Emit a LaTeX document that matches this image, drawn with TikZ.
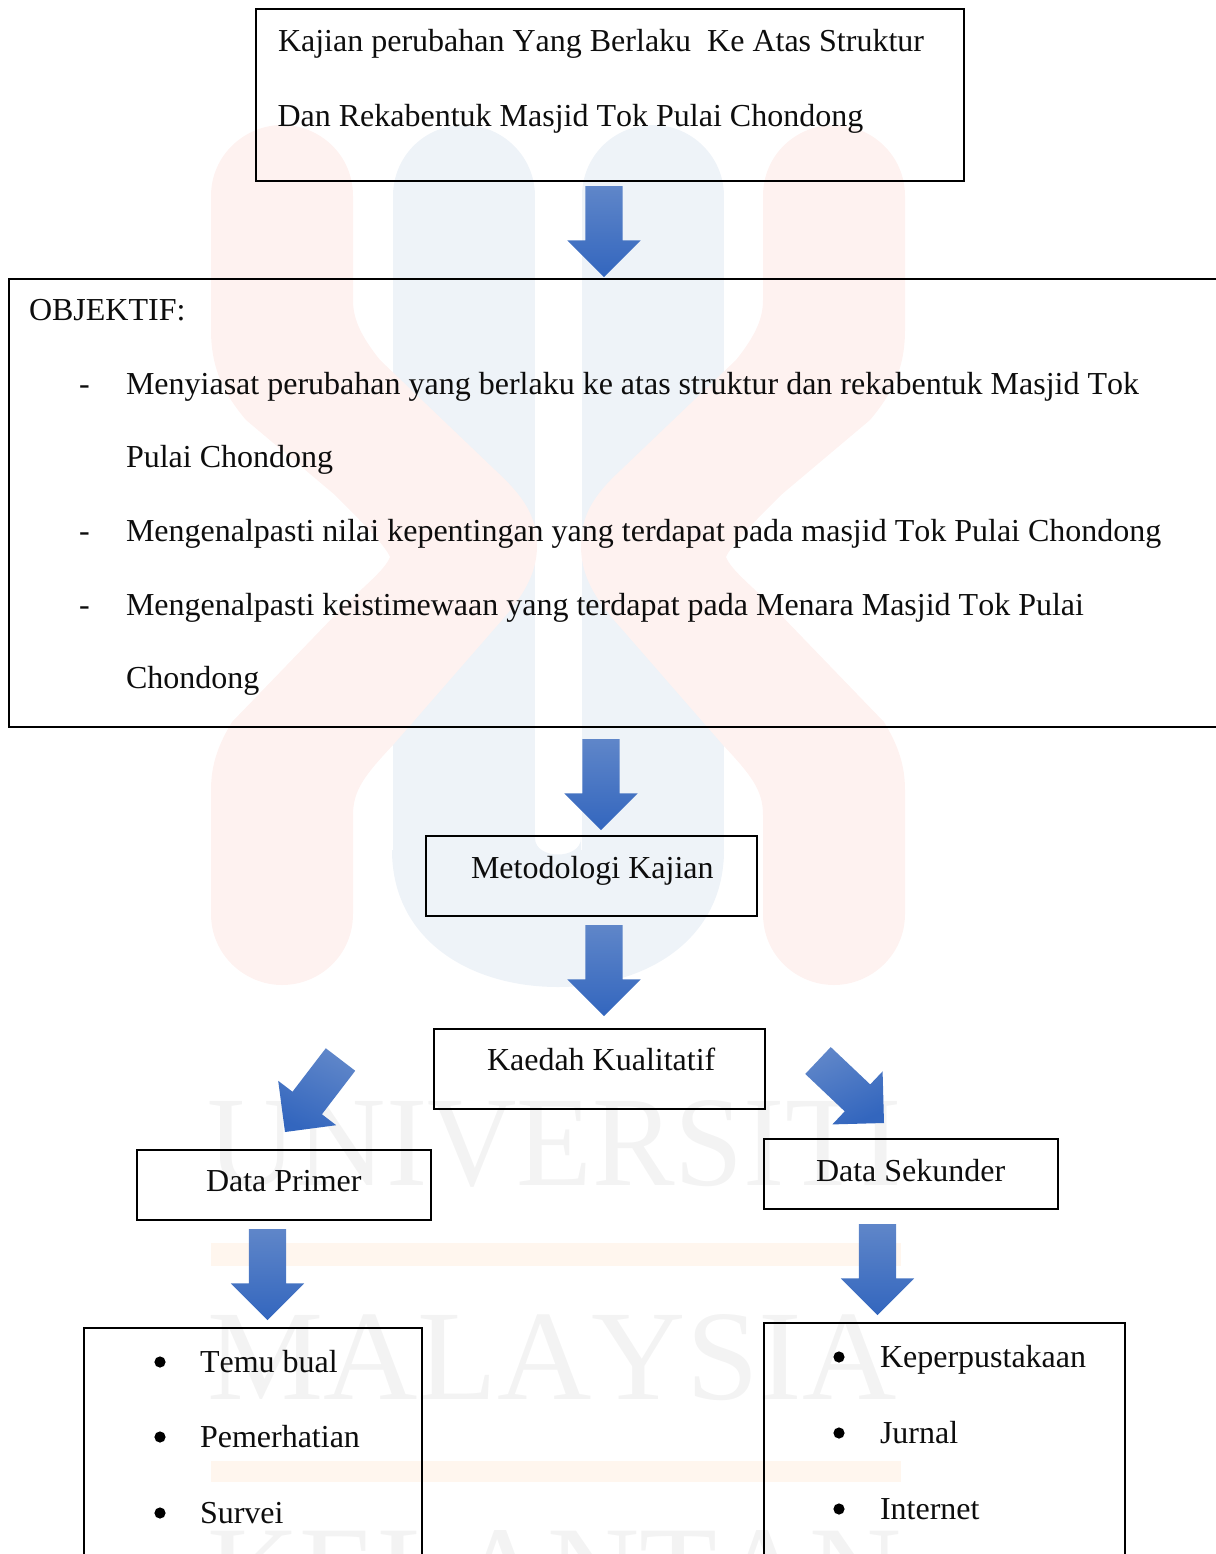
\documentclass[tikz,border=0pt]{standalone}
\usepackage{fontspec}
\setmainfont[Kerning=Off]{Liberation Serif}
\usetikzlibrary{calc}
\definecolor{wmred}{HTML}{FEF2F0}
\definecolor{wmblue}{HTML}{EEF3F8}
\definecolor{wmorange}{HTML}{FFF6EE}
\definecolor{wmgrey}{HTML}{F3F3F3}
\definecolor{arrowtop}{HTML}{5F86C9}
\definecolor{arrowmid}{HTML}{4171C4}
\definecolor{arrowbot}{HTML}{3366BE}
\tikzset{
  bx/.style={draw=black,line width=1.8pt,fill=none,anchor=north west,inner sep=0pt,outer sep=0pt},
  tx/.style={anchor=base west,inner sep=0pt,outer sep=0pt,font=\fontsize{24}{28}\selectfont,text=black!95},
  wm/.style={anchor=base west,inner sep=0pt,text=wmgrey,font=\fontsize{96}{110}\selectfont},
  bul/.style={circle,fill=black,inner sep=0pt,minimum size=8.4pt},
}
\newcommand{\arrowang}{0}
\newcommand{\blockarrow}[2]{%
  \coordinate (hb) at ($(#2)!27.4pt!(#1)$);
  \shade[top color=arrowtop,middle color=arrowmid,bottom color=arrowbot,shading angle=\arrowang]
    ($(#1)!13.9pt!90:(#2)$) -- ($(hb)!13.9pt!90:(#2)$) -- ($(hb)!27.4pt!90:(#2)$) -- (#2)
    -- ($(hb)!27.4pt!-90:(#2)$) -- ($(hb)!13.9pt!-90:(#2)$) -- ($(#1)!13.9pt!-90:(#2)$) -- cycle;
}
\begin{document}
\begin{tikzpicture}[x=0.75pt,y=-0.75pt]
\useasboundingbox (0,0) rectangle (1216,1554);
\clip (0,0) rectangle (1216,1554);
% watermark
\draw[wmblue,line width=106.5pt,line cap=round] (463.5,196) -- (463.5,850);
\draw[wmblue,line width=106.5pt,line cap=round] (652.5,196) -- (652.5,850);
\fill[wmblue] (392,850) .. controls (392,940) and (470,987) .. (558,987)
  .. controls (646,987) and (724,940) .. (724,850) -- (581,850) -- (581,838)
  .. controls (581,860) and (535,860) .. (535,838) -- (535,850) -- cycle;
\fill[wmred] (211,196) .. controls (211,155) and (245,125) .. (282,125) .. controls (320,125) and (353,155) .. (353,196)
  -- (353,300) .. controls (353,318) and (360,335) .. (380,360) -- (495,470)
  .. controls (522,495) and (537,515) .. (537,546) .. controls (537,575) and (522,598) .. (495,628) -- (393,745)
  .. controls (365,775) and (353,790) .. (353,815) -- (353,914)
  .. controls (353,955) and (320,985) .. (282,985) .. controls (245,985) and (211,955) .. (211,914)
  -- (211,790) .. controls (211,765) and (218,745) .. (232,722) -- (340,610) .. controls (365,585) and (385,570) .. (390,557)
  .. controls (385,545) and (360,520) .. (335,495) -- (246,420)
  .. controls (225,395) and (211,370) .. (211,330) -- cycle;
\fill[wmred] (905,196) .. controls (905,155) and (871,125) .. (834,125) .. controls (796,125) and (763,155) .. (763,196)
  -- (763,300) .. controls (763,318) and (756,335) .. (736,360) -- (621,470)
  .. controls (594,495) and (581,515) .. (581,546) .. controls (581,575) and (594,598) .. (621,628) -- (723,745)
  .. controls (751,775) and (763,790) .. (763,815) -- (763,914)
  .. controls (763,955) and (796,985) .. (834,985) .. controls (871,985) and (905,955) .. (905,914)
  -- (905,790) .. controls (905,765) and (898,745) .. (884,722) -- (776,610) .. controls (751,585) and (731,570) .. (726,557)
  .. controls (731,545) and (756,520) .. (781,495) -- (870,420)
  .. controls (891,395) and (905,370) .. (905,330) -- cycle;
\fill[wmorange] (211,1243) rectangle (901,1266);
\fill[wmorange] (211,1461) rectangle (901,1482);
\node[wm] (wm1) at (207,1185) {\resizebox{521pt}{63.75pt}{UNIVERSITI}};
\node[wm] (wm2) at (207,1399) {\resizebox{517pt}{63.75pt}{MALAYSIA}};
\node[wm] (wm3) at (207,1615) {\resizebox{521pt}{63.75pt}{KELANTAN}};
% boxes
\node[bx,minimum width=531pt,minimum height=129pt] (top) at (256,9) {};
\node[bx,minimum width=930pt,minimum height=336pt] (obj) at (9,279) {};
\node[bx,minimum width=248.25pt,minimum height=60pt] (met) at (426,836) {};
\node[bx,minimum width=248.25pt,minimum height=60pt] (kae) at (434,1029) {};
\node[bx,minimum width=220.5pt,minimum height=52.5pt] (pri) at (137,1150) {};
\node[bx,minimum width=220.5pt,minimum height=52.5pt] (sek) at (764,1139) {};
\node[bx,minimum width=253.5pt,minimum height=200pt] (lstl) at (84,1328) {};
\node[bx,minimum width=270.75pt,minimum height=200pt] (lstr) at (764,1323) {};
% text
\node[tx] (t1) at (278,51) {Kajian perubahan Yang Berlaku \ Ke Atas Struktur};
\node[tx] (t2) at (277.5,126) {Dan Rekabentuk Masjid Tok Pulai Chondong};
\node[tx] (o0) at (29,320) {OBJEKTIF:};
\node[tx] (d1) at (79,394) {-};
\node[tx] (o1) at (126,394) {Menyiasat perubahan yang berlaku ke atas struktur dan rekabentuk Masjid Tok};
\node[tx] (o1b) at (126,467) {Pulai Chondong};
\node[tx] (d2) at (79,541) {-};
\node[tx] (o2) at (126,541) {Mengenalpasti nilai kepentingan yang terdapat pada masjid Tok Pulai Chondong};
\node[tx] (d3) at (79,615) {-};
\node[tx] (o3) at (126,615) {Mengenalpasti keistimewaan yang terdapat pada Menara Masjid Tok Pulai};
\node[tx] (o3b) at (126,688) {Chondong};
\node[tx] (tm) at (471,878) {Metodologi Kajian};
\node[tx] (tk) at (487,1070) {Kaedah Kualitatif};
\node[tx] (tp) at (206,1191) {Data Primer};
\node[tx] (ts) at (816,1181) {Data Sekunder};
\node[bul] (b1) at (160,1362) {};
\node[bul] (b2) at (160,1437) {};
\node[bul] (b3) at (160,1513) {};
\node[tx] (l1) at (200,1372) {Temu bual};
\node[tx] (l2) at (200,1447) {Pemerhatian};
\node[tx] (l3) at (200,1523) {Survei};
\node[bul] (b4) at (839,1357) {};
\node[bul] (b5) at (839,1433) {};
\node[bul] (b6) at (839,1509) {};
\node[tx] (r1) at (880,1367) {Keperpustakaan};
\node[tx] (r2) at (880,1443) {Jurnal};
\node[tx] (r3) at (880,1519) {Internet};
% block arrows, end points taken from the boxes they join
\coordinate (a1s) at ($(top.south)+(-6,5)$);
\coordinate (a1e) at ($(obj.north)+(-25,-2)$);
\coordinate (a2s) at ($(obj.south)+(-28,12)$);
\coordinate (a2e) at ($(met.north)+(9.5,-6)$);
\coordinate (a3s) at ($(met.south)+(12.5,9)$);
\coordinate (a3e) at ($(kae.north)+(4.5,-13)$);
\coordinate (a4s) at ($(kae.west)+(-93.5,-9.5)$);
\coordinate (a4e) at ($(pri.north)+(1,-18)$);
\coordinate (a5s) at ($(kae.east)+(53,-8.5)$);
\coordinate (a5e) at ($(sek.north)+(-27,-16)$);
\coordinate (a6s) at ($(pri.south)+(-16.5,9)$);
\coordinate (a6e) at ($(lstl.north)+(14.5,-8)$);
\coordinate (a7s) at ($(sek.south)+(-33.5,15)$);
\coordinate (a7e) at ($(lstr.north)+(-67,-8)$);
\blockarrow{a1s}{a1e}
\blockarrow{a2s}{a2e}
\blockarrow{a3s}{a3e}
\renewcommand{\arrowang}{-25}
\blockarrow{a4s}{a4e}
\renewcommand{\arrowang}{25}
\blockarrow{a5s}{a5e}
\renewcommand{\arrowang}{0}
\blockarrow{a6s}{a6e}
\blockarrow{a7s}{a7e}
\end{tikzpicture}
\end{document}
